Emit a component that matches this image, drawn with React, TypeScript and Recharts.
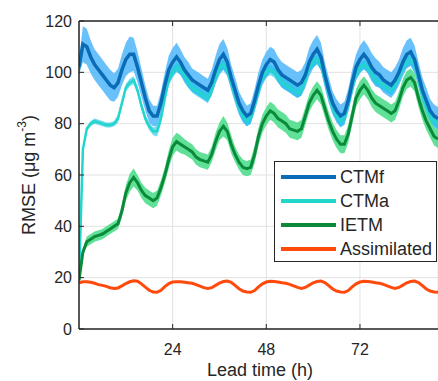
import React from 'react';
import { ComposedChart, Line, Area, XAxis, YAxis, CartesianGrid, Legend } from 'recharts';

// Lead time in hours (x grid)
const hours: number[] = Array.from({ length: 93 }, (_, i) => i);

const ctmf: number[] = [
  102, 111, 110, 106, 103, 101, 99, 97, 95, 94,
  96, 101, 105, 107, 107, 102, 96, 90, 85, 83,
  83, 88, 95, 101, 104, 106, 104, 101, 99, 97,
  96, 95, 94, 93, 96, 101, 105, 107, 104, 98,
  93, 88, 85, 83, 84, 89, 95, 100, 103, 105,
  104, 101, 99, 98, 97, 96, 95, 96, 99, 104,
  107, 109, 106, 99, 93, 88, 85, 83, 84, 89,
  96, 102, 105, 107, 105, 102, 100, 99, 97, 96,
  95, 97, 100, 104, 107, 108, 105, 99, 93, 89,
  85, 83, 82,
];
const ctmfSpread: number[] = [
  3, 7, 7, 6.5, 6, 6, 6, 6, 6, 5.5,
  5.5, 6, 6.5, 7, 6.5, 6, 5.5, 5, 4.5, 4,
  4, 4.5, 5, 5.5, 5.5, 5.5, 5, 5, 5, 4.5,
  4.5, 4.5, 4.5, 4.5, 5, 5.5, 6, 6, 5.5, 5,
  5, 4.5, 4.5, 4, 4, 4.5, 5, 5, 5, 5,
  5, 5, 5, 5, 5, 5, 5, 5, 5, 5.5,
  5.5, 5.5, 5.5, 5, 5, 4.5, 4.5, 4.5, 4.5, 4.5,
  5, 5, 5.5, 5.5, 5.5, 5.5, 5.5, 5, 5, 5,
  5, 5, 5, 5.5, 5.5, 5.5, 5.5, 5, 5, 5,
  4.5, 4.5, 4.5,
];

const ctma: number[] = [
  19, 70, 78, 80, 81, 80.5, 80, 79.5, 79.5, 80,
  82, 88, 94, 96, 97, 93, 87, 82, 79, 77,
  77, 82, 90, 97, 100, 102, 101, 99, 96, 94,
  93, 92, 91, 90, 93, 98, 102, 103, 101, 96,
  91, 86, 83, 81, 82, 87, 93, 98, 100, 101,
  100, 98, 96, 95, 94, 93, 92, 93, 97, 102,
  104, 105, 103, 97, 91, 86, 83, 81, 82, 87,
  94, 99, 102, 103, 102, 99, 97, 96, 95, 94,
  93, 95, 98, 102, 104, 105, 103, 97, 91, 87,
  83, 81, 80,
];
const ctmaSpread: number[] = [
  0.5, 1, 1, 1, 1, 1, 1, 1, 1, 1,
  1.5, 1.5, 1.5, 1.5, 1.5, 1.5, 1.5, 1.5, 1.5, 1.5,
  2, 2, 2, 2, 2, 2, 2, 2, 2, 2,
  2, 2, 2, 2, 2, 2, 2, 2, 2, 2,
  2, 2, 2, 2, 2, 2, 2, 2, 2, 2,
  2, 2, 2, 2, 2, 2, 2, 2, 2, 2,
  2, 2, 2, 2, 2, 2, 2, 2, 2, 2,
  2, 2, 2, 2, 2, 2, 2, 2, 2, 2,
  2, 2, 2, 2, 2, 2, 2, 2, 2, 2,
  2, 2, 2,
];

const ietm: number[] = [
  19, 30, 34, 35, 36, 36.5, 37, 38, 39, 40,
  41, 46, 53, 57, 59, 57, 54, 52, 51, 50,
  51, 55, 60, 66, 71, 73, 72, 71, 70, 69,
  67, 66, 65.5, 65, 68, 73, 77, 79, 77, 72,
  68, 65, 63, 62.5, 63, 68, 75, 80, 83, 85,
  84, 82, 81, 80, 78, 77.5, 77, 78, 83, 88,
  91, 93, 91, 86, 81, 77, 74, 72, 72, 76,
  83, 90, 93, 95, 93, 90, 88, 87, 86, 85,
  84, 85, 89, 94, 97, 98, 96, 90, 85, 81,
  78, 75, 74,
];
const ietmSpread: number[] = [
  0.5, 1.5, 2, 2, 2, 2, 2, 2, 2, 2,
  2, 2.5, 3, 3.5, 3.5, 3, 3, 3, 3, 3,
  3, 3, 3, 3.5, 3.5, 3.5, 3.5, 3, 3, 3,
  3, 3, 3, 3, 3, 3.5, 3.5, 4, 3.5, 3.5,
  3, 3, 3, 3, 3, 3.5, 3.5, 3.5, 3.5, 3.5,
  3.5, 3.5, 3.5, 3.5, 3.5, 3.5, 3.5, 3.5, 3.5, 3.5,
  3.5, 3.5, 3.5, 3.5, 3.5, 3.5, 3.5, 3.5, 3.5, 3.5,
  3.5, 3.5, 3.5, 3.5, 3.5, 3.5, 3.5, 3.5, 3.5, 3.5,
  3.5, 3.5, 3.5, 3.5, 3.5, 3.5, 3.5, 3.5, 3.5, 3.5,
  3.5, 3.5, 3.5,
];

const assimilated: number[] = [
  18, 18.4, 18.4, 18.2, 17.8, 17.3, 17, 16.6, 16.1, 15.8,
  16, 16.8, 17.7, 18.4, 18.8, 18.6, 17.6, 16.3, 15.1, 14.4,
  14.3, 15.1, 16.5, 17.7, 18.3, 18.4, 18.4, 18.2, 18, 17.8,
  17.3, 16.7, 16.1, 15.8, 16.1, 17, 17.9, 18.5, 18.7, 18.2,
  17, 15.7, 14.8, 14.4, 14.3, 15, 16.4, 17.6, 18.3, 18.6,
  18.5, 18.3, 18, 17.8, 17.4, 16.8, 16.2, 15.8, 16.2, 17.1,
  18, 18.5, 18.7, 18.1, 16.9, 15.6, 14.8, 14.4, 14.3, 15,
  16.4, 17.6, 18.3, 18.6, 18.5, 18.3, 18, 17.8, 17.4, 16.8,
  16.2, 15.8, 16.2, 17.1, 18, 18.5, 18.7, 18.1, 16.9, 15.6,
  14.8, 14.4, 14.3,
];

const xTicks = [24, 48, 72];
const yTicks = [0, 20, 40, 60, 80, 100, 120];

const COLORS = {
  ctmf: '#0b6cb6',
  ctmfBand: '#4fb6fb',
  ctma: '#22d6cc',
  ctmaBand: '#10c4e4',
  ietm: '#0b8a3a',
  ietmBand: '#45da86',
  asm: '#ff4a0c',
};

const legendItems = [
  { name: 'CTMf', color: COLORS.ctmf },
  { name: 'CTMa', color: COLORS.ctma },
  { name: 'IETM', color: COLORS.ietm },
  { name: 'Assimilated', color: COLORS.asm },
];

const data = hours.map((h, i) => ({
  h,
  ctmf: ctmf[i],
  ctma: ctma[i],
  ietm: ietm[i],
  asm: assimilated[i],
  ctmfBand: [ctmf[i] - ctmfSpread[i], ctmf[i] + ctmfSpread[i]],
  ctmaBand: [ctma[i] - ctmaSpread[i], ctma[i] + ctmaSpread[i]],
  ietmBand: [ietm[i] - ietmSpread[i], ietm[i] + ietmSpread[i]],
}));

const FONT = '"Liberation Sans", Arial, Helvetica, sans-serif';
const INK = '#262626';

const YTick = (props: any) => {
  const { x, y, payload } = props;
  return (
    <g>
      <line x1={x} x2={x + 5} y1={y} y2={y} stroke={INK} strokeWidth={1} />
      <text x={x - 7} y={y} dy="0.36em" textAnchor="end" fontSize={16} fill={INK} fontFamily={FONT}>
        {payload.value}
      </text>
    </g>
  );
};

const BottomTick = (props: any) => {
  const { x, y, payload } = props;
  return (
    <g>
      <line x1={x} x2={x} y1={y} y2={y - 5} stroke={INK} strokeWidth={1} />
      <text x={x} y={y + 26} textAnchor="middle" fontSize={16} fill={INK} fontFamily={FONT}>
        {payload.value}
      </text>
    </g>
  );
};

const TopTick = (props: any) => {
  const { x, y } = props;
  return <line x1={x} x2={x} y1={y} y2={y + 5} stroke={INK} strokeWidth={1} />;
};

const LegendBox = () => (
  <div
    style={{
      boxSizing: 'border-box',
      width: 163,
      height: 101,
      border: `1.5px solid ${INK}`,
      background: '#fff',
      paddingTop: 3,
      fontFamily: FONT,
    }}
  >
    {legendItems.map((it) => (
      <div key={it.name} style={{ display: 'flex', alignItems: 'center', height: 24 }}>
        <div style={{ marginLeft: 6, width: 55, height: 3.5, background: it.color }} />
        <span style={{ marginLeft: 4, fontSize: 18, color: INK, lineHeight: '24px' }}>{it.name}</span>
      </div>
    ))}
  </div>
);

const YLabel = () => (
  <text
    transform="translate(29,175) rotate(-90)"
    textAnchor="middle"
    dominantBaseline="central"
    fontSize={18}
    fill={INK}
    fontFamily={FONT}
  >
    RMSE (μg m<tspan dy={-7} fontSize={12}>-3</tspan>
    <tspan dy={7}>)</tspan>
  </text>
);

const XLabel = () => (
  <text x={260} y={376} textAnchor="middle" fontSize={18} fill={INK} fontFamily={FONT}>
    Lead time (h)
  </text>
);

export default function App() {
  return (
    <div style={{ position: 'absolute', left: 0, top: 0, width: 438, height: 381, background: '#fff' }}>
      <ComposedChart width={438} height={381} data={data} margin={{ top: 20, right: 0, bottom: 0, left: 0 }}>
        <CartesianGrid stroke="#e2e2e2" strokeWidth={1} />
        <XAxis
          dataKey="h"
          type="number"
          domain={[0, 92]}
          ticks={xTicks}
          allowDataOverflow
          height={52}
          tickSize={0}
          tickMargin={0}
          tickLine={false}
          tick={<BottomTick />}
          axisLine={{ stroke: INK, strokeWidth: 1.5 }}
          label={{ content: () => <XLabel /> }}
        />
        <XAxis
          xAxisId="top"
          orientation="top"
          dataKey="h"
          type="number"
          domain={[0, 92]}
          ticks={xTicks}
          allowDataOverflow
          height={1}
          tickSize={0}
          tickMargin={0}
          tickLine={false}
          tick={<TopTick />}
          axisLine={{ stroke: INK, strokeWidth: 1.5 }}
        />
        <YAxis
          type="number"
          domain={[0, 120]}
          ticks={yTicks}
          allowDataOverflow
          width={79}
          tickSize={0}
          tickMargin={0}
          tickLine={false}
          tick={<YTick />}
          axisLine={{ stroke: INK, strokeWidth: 1.5 }}
          label={{ content: () => <YLabel /> }}
        />
        <Area dataKey="ctmfBand" stroke="none" fill={COLORS.ctmfBand} fillOpacity={0.85} isAnimationActive={false} activeDot={false} />
        <Area dataKey="ctmaBand" stroke="none" fill={COLORS.ctmaBand} fillOpacity={0.6} isAnimationActive={false} activeDot={false} />
        <Area dataKey="ietmBand" stroke="none" fill={COLORS.ietmBand} fillOpacity={0.85} isAnimationActive={false} activeDot={false} />
        <Line dataKey="ctma" stroke={COLORS.ctma} strokeWidth={2.5} dot={false} isAnimationActive={false} />
        <Line dataKey="ietm" stroke={COLORS.ietm} strokeWidth={3} dot={false} isAnimationActive={false} />
        <Line dataKey="ctmf" stroke={COLORS.ctmf} strokeWidth={3.5} dot={false} isAnimationActive={false} />
        <Line dataKey="asm" stroke={COLORS.asm} strokeWidth={3} dot={false} isAnimationActive={false} />
        <Legend
          layout="vertical"
          align="center"
          verticalAlign="middle"
          wrapperStyle={{ position: 'absolute', left: 274, top: 161, width: 163, height: 101 }}
          content={() => <LegendBox />}
        />
      </ComposedChart>
    </div>
  );
}
